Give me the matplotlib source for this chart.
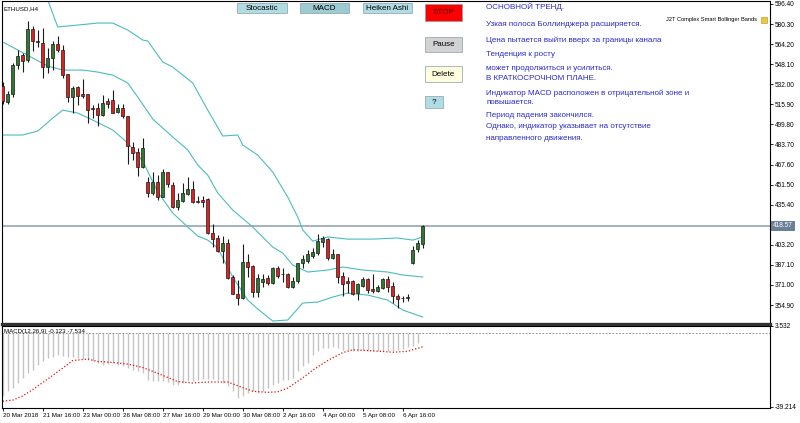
import matplotlib
matplotlib.use('Agg')
import matplotlib.pyplot as plt
from matplotlib.patches import Rectangle

plt.rcParams['font.family'] = ['Liberation Sans', 'DejaVu Sans']

W, H = 800, 423

# ETHUSD H4 candles (open, high, low, close)
opens = [530.6, 518.0, 524.4, 547.5, 555.5, 551.5, 576.3, 567.0, 565.4, 546.1,
         552.8, 564.1, 559.5, 540.0, 522.0, 530.0, 524.2, 524.0, 512.7, 512.7,
         507.3, 518.6, 519.1, 510.0, 512.7, 506.5, 481.9, 477.4, 465.9, 453.3,
         445.0, 453.3, 441.8, 461.4, 451.2, 433.3, 438.6, 443.9, 447.7, 438.6,
         439.1, 439.7, 412.4, 408.4, 398.5, 404.9, 377.6, 363.7, 360.3, 389.2,
         386.2, 365.6, 373.1, 376.3, 372.3, 384.3, 380.0, 379.8, 369.6, 374.4,
         388.4, 390.2, 394.2, 396.4, 405.2, 407.6, 392.4, 395.6, 378.2, 374.2,
         374.2, 364.3, 370.1, 375.5, 367.5, 366.4, 368.8, 375.8, 370.1, 362.4,
         360.8, 360.8, 388.4, 399.6, 403.8]
highs = [533.8, 526.6, 548.8, 559.5, 557.3, 582.8, 578.7, 575.5, 576.9, 560.8,
         567.0, 571.0, 563.5, 540.5, 530.8, 530.8, 536.2, 524.5, 515.4, 517.2,
         523.4, 521.2, 527.4, 515.9, 515.9, 506.8, 485.9, 481.1, 488.6, 457.8,
         461.8, 459.2, 463.8, 461.8, 453.8, 444.5, 452.5, 457.4, 454.6, 442.3,
         442.3, 440.5, 419.9, 411.1, 410.3, 407.6, 379.0, 375.0, 403.8, 395.6,
         387.0, 379.5, 379.5, 379.0, 385.1, 386.2, 384.3, 380.3, 377.6, 388.8,
         394.8, 399.0, 400.4, 411.9, 410.3, 408.4, 399.6, 395.9, 381.6, 377.6,
         375.0, 372.8, 377.6, 376.8, 379.5, 371.0, 376.8, 378.2, 373.6, 363.7,
         362.1, 363.5, 402.2, 407.0, 418.9]
lows = [516.2, 516.2, 521.5, 544.0, 542.1, 550.1, 558.9, 561.6, 536.8, 540.8,
        543.4, 558.1, 537.3, 517.5, 509.2, 515.4, 520.7, 500.7, 504.7, 498.5,
        506.8, 513.2, 508.7, 508.7, 504.7, 467.8, 471.2, 458.6, 464.6, 441.8,
        443.2, 439.1, 441.5, 449.8, 432.5, 431.1, 437.8, 443.2, 436.5, 436.5,
        433.8, 411.9, 401.7, 397.7, 388.4, 375.8, 363.5, 354.9, 359.5, 377.1,
        361.1, 361.6, 369.6, 371.0, 371.5, 376.8, 373.6, 368.8, 368.8, 372.3,
        384.3, 388.4, 392.4, 395.0, 401.7, 391.0, 391.6, 372.3, 362.4, 364.3,
        362.9, 358.9, 369.6, 364.8, 364.3, 365.6, 367.5, 365.6, 356.3, 352.3,
        357.6, 358.1, 387.8, 397.7, 400.4]
closes = [518.6, 524.2, 547.5, 554.9, 550.9, 576.1, 567.0, 565.7, 546.1, 552.8,
          564.3, 559.5, 539.4, 521.5, 529.2, 522.6, 522.6, 511.6, 511.9, 507.3,
          517.2, 515.9, 509.2, 512.7, 506.5, 482.5, 477.1, 465.9, 481.1, 445.0,
          453.3, 441.8, 461.4, 451.7, 433.3, 439.1, 444.5, 447.7, 437.8, 437.8,
          437.8, 412.4, 407.6, 398.5, 404.4, 376.3, 363.7, 360.3, 389.2, 385.1,
          365.6, 376.3, 375.5, 372.3, 384.3, 378.2, 379.5, 369.6, 374.4, 388.4,
          391.8, 395.9, 397.7, 406.5, 408.4, 392.4, 395.9, 377.6, 371.5, 372.3,
          363.5, 371.5, 375.8, 366.9, 366.4, 369.6, 375.8, 369.6, 362.1, 359.5,
          360.3, 361.3, 399.0, 404.4, 418.57]
last_price = 418.57

# Bollinger bands (value read at given candle index)
upper_idx = [7, 9, 11, 15, 19, 22, 25, 28, 29, 32, 34, 38, 41, 44, 47, 48, 51, 54,
             57, 59, 60, 62, 65, 69, 74, 79, 82, 84]
upper_val = [627.7, 599.6, 578.0, 579.5, 581.1, 581.1, 575.5, 567.5, 566.7, 549.9,
             545.8, 533.0, 511.3, 490.5, 491.3, 483.3, 475.2, 461.6, 441.5, 425.5,
             415.1, 406.2, 409.5, 407.8, 407.8, 408.7, 407.0, 409.5]
middle_idx = [0, 3, 6, 9, 12, 16, 19, 22, 25, 27, 30, 34, 37, 39, 41, 43, 46, 50,
              54, 56, 58, 61, 65, 68, 72, 77, 80, 84]
middle_val = [565.9, 559.5, 553.1, 546.6, 543.4, 543.4, 541.8, 539.4, 533.0, 521.8,
              504.1, 489.7, 479.3, 467.2, 459.2, 444.8, 431.1, 417.5, 401.4, 396.6,
              387.0, 381.4, 383.0, 385.4, 383.0, 381.4, 379.0, 377.4]
lower_idx = [0, 4, 7, 10, 12, 15, 18, 22, 25, 28, 31, 34, 37, 39, 41, 43, 46, 49,
             51, 54, 57, 60, 63, 66, 69, 73, 77, 80, 84]
lower_val = [491.3, 491.3, 494.5, 504.9, 511.3, 508.9, 503.3, 495.3, 484.9, 470.4,
             445.6, 428.7, 417.5, 410.3, 407.0, 400.6, 377.4, 358.9, 351.7, 342.1,
             342.9, 356.5, 357.3, 361.3, 364.5, 362.9, 358.9, 350.9, 345.3]

# MACD(12,26,9)
macd_hist = [-33.8, -31.1, -29.4, -26.7, -24.1, -21.4, -19.7, -17.0, -15.3, -13.5,
             -12.7, -11.8, -12.3, -12.7, -13.0, -13.5, -14.0, -14.4, -15.3, -16.2,
             -17.0, -16.7, -16.2, -17.0, -17.9, -18.8, -19.7, -20.6, -21.4, -25.0,
             -25.9, -25.9, -25.9, -26.4, -27.6, -27.6, -26.7, -25.9, -25.9, -25.0,
             -24.6, -24.6, -24.6, -25.0, -26.7, -28.5, -31.1, -34.6, -33.8, -32.0,
             -31.1, -32.0, -31.1, -29.4, -27.6, -26.7, -25.0, -25.0, -24.1, -20.6,
             -17.9, -16.2, -11.8, -10.0, -8.2, -8.2, -7.4, -8.2, -9.1, -9.1,
             -10.0, -10.0, -9.1, -10.0, -10.0, -10.0, -10.0, -10.0, -9.5, -9.1,
             -8.8, -7.7, -7.0, -5.6, -0.1]
sig_idx = [0, 2, 4, 6, 9, 12, 14, 17, 19, 22, 25, 28, 31, 35, 38, 41, 45, 48, 50,
           53, 55, 57, 60, 62, 65, 68, 70, 73, 76, 78, 81, 84]
sig_val = [-36.4, -35.8, -33.6, -30.2, -24.6, -18.8, -14.8, -14.0, -15.3, -15.8,
           -16.7, -18.5, -21.6, -26.0, -26.7, -26.2, -26.2, -29.2, -31.1, -31.7,
           -31.4, -29.4, -24.0, -19.9, -14.8, -10.6, -9.1, -9.5, -10.0, -10.4,
           -9.9, -7.5]

price_ticks = [596.40, 580.30, 564.20, 548.10, 532.00, 515.90, 499.80, 483.70,
               467.60, 451.50, 435.40, 419.30, 403.20, 387.10, 371.00, 354.90]
time_pos = [0, 8, 16, 24, 32, 40, 48, 56, 64, 72, 80]
time_labels = ['20 Mar 2018', '21 Mar 16:00', '23 Mar 00:00', '26 Mar 08:00',
               '27 Mar 16:00', '29 Mar 00:00', '30 Mar 08:00', '2 Apr 16:00',
               '4 Apr 00:00', '5 Apr 08:00', '6 Apr 16:00']

comment_lines = ['ОСНОВНОЙ ТРЕНД.',
                 'Узкая полоса Боллинджера расширяется.',
                 'Цена пытается выйти вверх за границы канала',
                 'Тенденция к росту',
                 'может продолжиться и усилиться.',
                 'В КРАТКОСРОЧНОМ ПЛАНЕ.',
                 'Индикатор MACD расположен в отрицательной зоне и',
                 'повышается.',
                 'Период падения закончился.',
                 'Однако, индикатор указывает на отсутствие',
                 'направленного движения.']
comment_y = [7, 25, 40, 55, 68, 79, 93, 103, 115, 127, 138]


def fx(px):
    return px / W


def fy(py):
    return 1 - py / H


fig = plt.figure(figsize=(W / 100, H / 100), dpi=100, facecolor='white')

# ---- price panel
ax = fig.add_axes([fx(2), fy(324), (770 - 2) / W, (324 - 1) / H])
ax.set_xlim(-0.15, 153.45)
ax.set_ylim(339.7, 598.8)

band_color = '#4cbcbc'
ax.plot(upper_idx, upper_val, color=band_color, lw=0.8, zorder=2)
ax.plot(middle_idx, middle_val, color=band_color, lw=0.8, zorder=2)
ax.plot(lower_idx, lower_val, color=band_color, lw=0.8, zorder=2)

ax.axhline(last_price, color='#8d9eab', lw=1.1, zorder=1)

for i, (o, h, l, c) in enumerate(zip(opens, highs, lows, closes)):
    ax.vlines(i, l, h, color='#1a1a1a', lw=0.8, zorder=3)
    if c > o:
        fc = '#2e7b30'
    elif c < o:
        fc = '#e0201e'
    else:
        fc = '#1a1a1a'
    ax.bar(i, max(abs(c - o), 0.35), bottom=min(o, c), width=0.62,
           color=fc, edgecolor='#1a1a1a', linewidth=0.5, zorder=4)

ax.yaxis.tick_right()
ax.set_yticks(price_ticks)
ax.set_yticklabels(['%.2f' % v for v in price_ticks])
ax.tick_params(axis='y', direction='out', length=2.2, width=0.6, pad=1,
               labelsize=4.7, colors='black')
ax.set_xticks([])
for s in ax.spines.values():
    s.set_linewidth(0.8)
    s.set_color('black')
ax.spines['bottom'].set_linewidth(2.4)
ax.spines['bottom'].set_color('#333333')

ax.text(1.004, last_price, '%.2f' % last_price, transform=ax.get_yaxis_transform(),
        ha='left', va='center', fontsize=4.7, color='white', zorder=10,
        clip_on=False,
        bbox=dict(boxstyle='square,pad=0.25', fc='#6a8098', ec='none'))

ax.text(0.002, 0.985, 'ETHUSD,H4', transform=ax.transAxes, ha='left', va='top',
        fontsize=4.4, color='black')

# comment block
for line, yy in zip(comment_lines, comment_y):
    fig.text(fx(486), fy(yy), line, ha='left', va='center', fontsize=5.8,
             color='#2a2acc')

fig.text(fx(757), fy(19.5), 'J2T Complex Smart Bollinger Bands', ha='right',
         va='center', fontsize=4.1, color='black')
fig.add_artist(Rectangle((fx(761), fy(23)), 6 / W, 6 / H, transform=fig.transFigure,
                         fc='#e8c83c', ec='#b09020', lw=0.4))

# buttons
buttons = [('Stocastic', 237, 3, 287, 13.5, '#b0dde4', 'black'),
           ('MACD', 300, 3, 349, 13.5, '#9ccbd3', 'black'),
           ('Heiken Ashi', 363, 3, 412, 13.5, '#b0dde4', 'black'),
           ('STOP', 425, 4, 462, 21, '#ff0000', '#4a0000'),
           ('Pause', 425, 37, 462, 52, '#d2d2d2', 'black'),
           ('Delete', 425, 66, 462, 82, '#ffffe0', 'black'),
           ('?', 425, 96, 443, 108, '#b0dde4', 'black')]
for label, x0, y0, x1, y1, fc, tc in buttons:
    fig.add_artist(Rectangle((fx(x0), fy(y1)), (x1 - x0) / W, (y1 - y0) / H,
                             transform=fig.transFigure, fc=fc, ec='#8aa0a8', lw=0.5,
                             zorder=1))
    fig.text(fx((x0 + x1) / 2), fy((y0 + y1) / 2), label, ha='center', va='center',
             fontsize=5.8, color=tc, zorder=5)

# ---- MACD panel
ax2 = fig.add_axes([fx(2), fy(408), (770 - 2) / W, (408 - 326) / H])
ax2.set_xlim(-0.15, 153.45)
ax2.set_ylim(-40.0, 3.532)
ax2.vlines(range(len(macd_hist)), 0, macd_hist, color='#c4c4c4', lw=1.0)
ax2.plot(sig_idx, sig_val, color='#e01010', lw=0.9, linestyle=(0, (1, 1.6)))
ax2.axhline(0, color='#7a7a7a', lw=0.6, linestyle=(0, (2, 2)))

ax2.yaxis.tick_right()
ax2.set_yticks([3.532, -39.214])
ax2.set_yticklabels(['3.532', '-39.214'])
ax2.tick_params(axis='y', direction='out', length=2.2, width=0.6, pad=1,
                labelsize=4.7)
ax2.set_xticks(time_pos)
ax2.set_xticklabels(time_labels)
ax2.tick_params(axis='x', direction='out', length=2.5, width=0.6, pad=1,
                labelsize=4.5)
for lab in ax2.get_xticklabels():
    lab.set_horizontalalignment('left')
for s in ax2.spines.values():
    s.set_linewidth(0.8)
    s.set_color('black')

ax2.text(0.002, 0.93, 'MACD(12,26,9) -0.123 -7.534', transform=ax2.transAxes,
         ha='left', va='center', fontsize=4.4, color='black')

fig.savefig('out.png', dpi=100, facecolor='white')
